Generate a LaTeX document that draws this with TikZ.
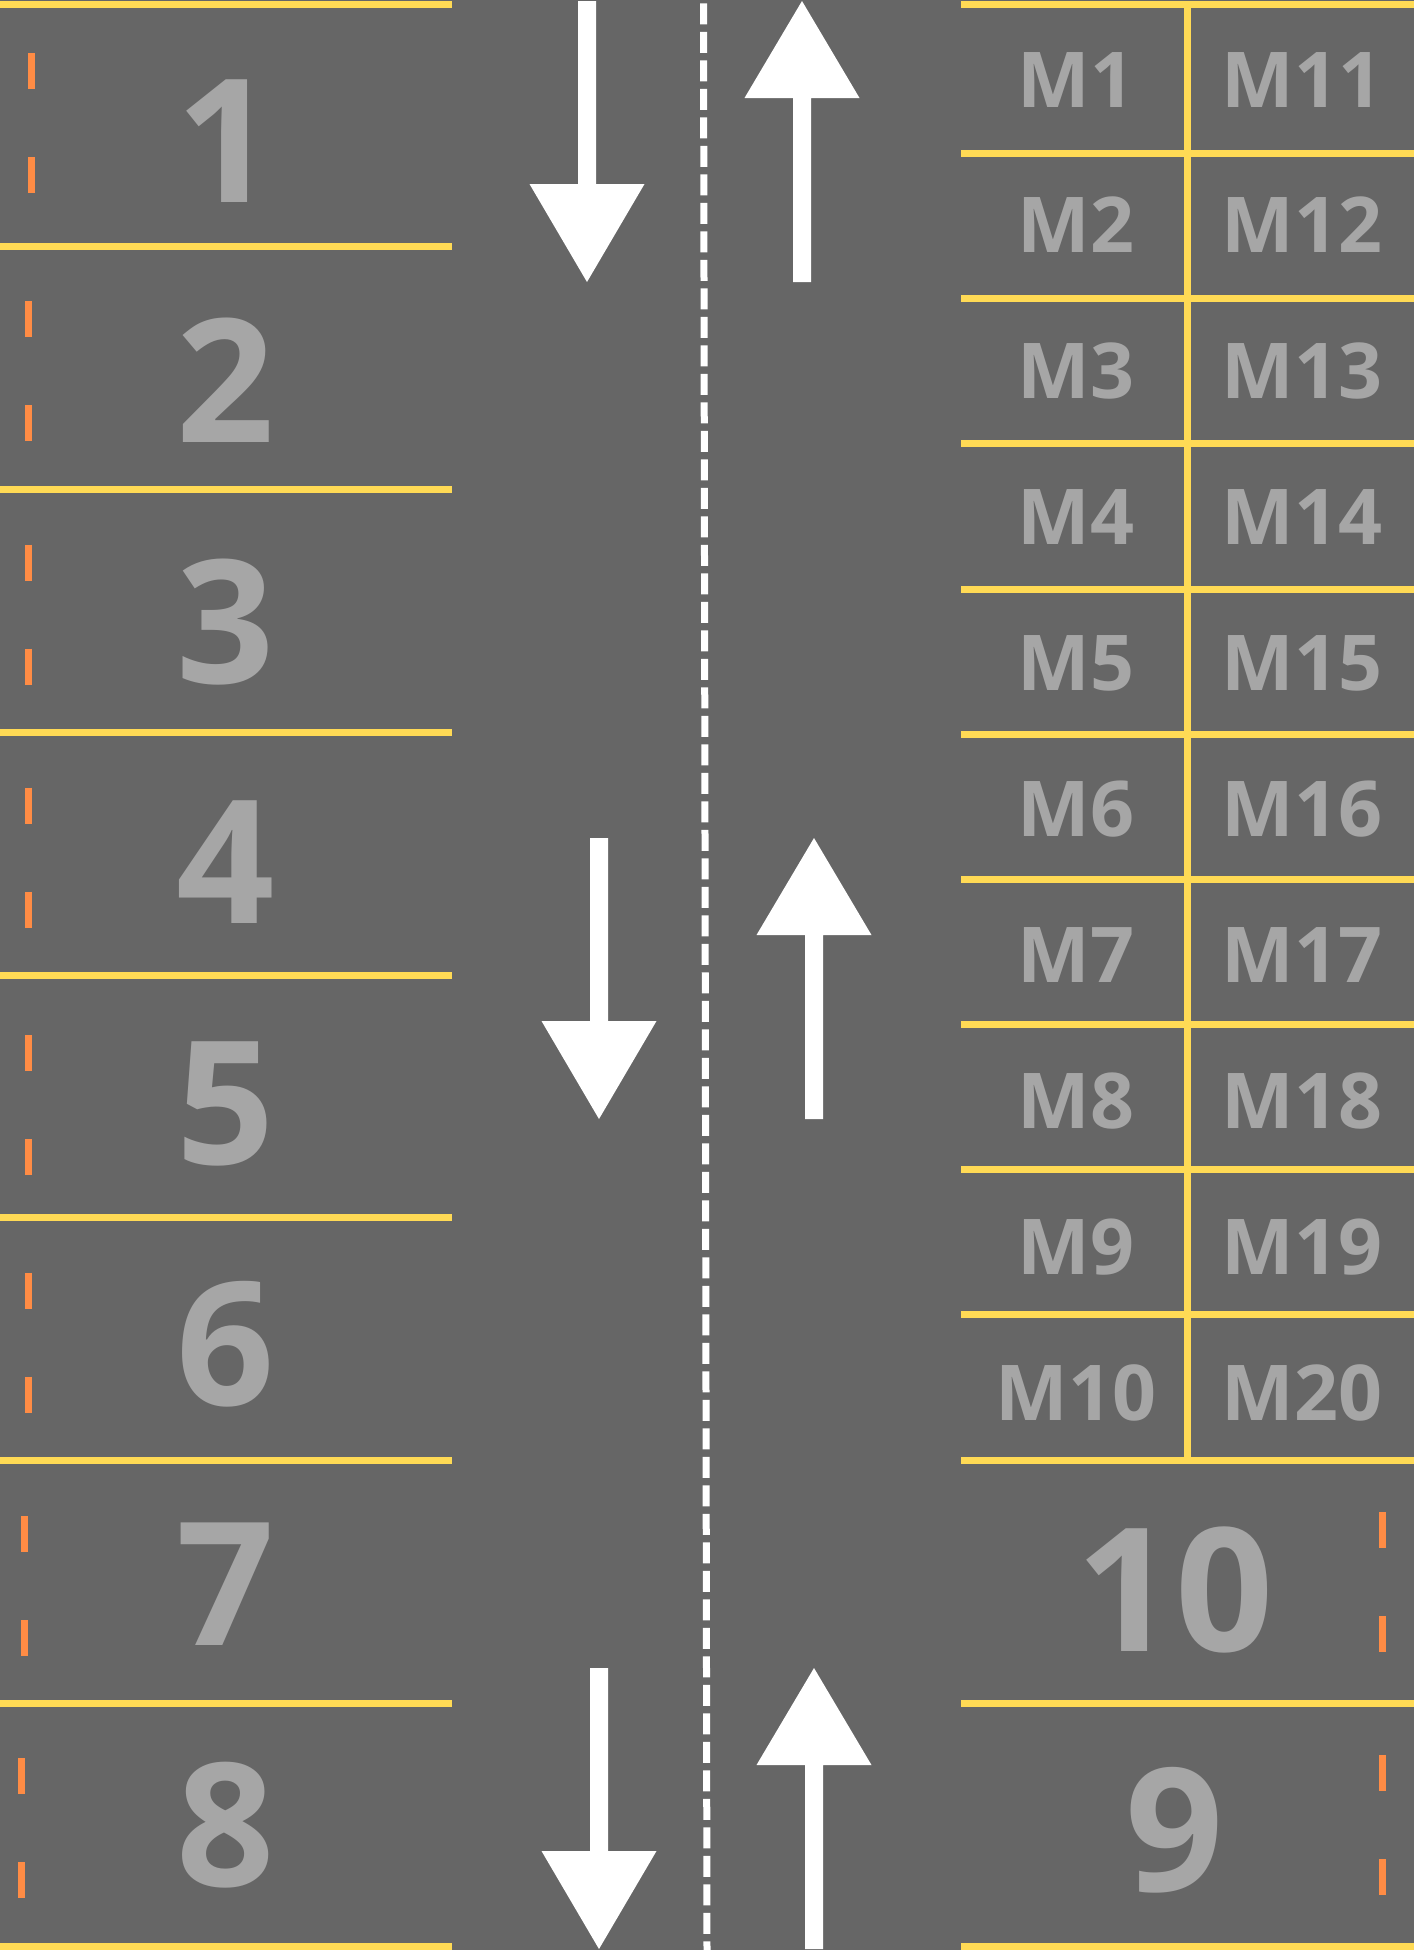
\documentclass[tikz,border=0pt]{standalone}
\usepackage{fontspec}
\setmainfont{Open Sans}
\usepackage{xcolor}
\usetikzlibrary{calc}

\definecolor{asphalt}{HTML}{666666}
\definecolor{bayyellow}{HTML}{FFDA55}
\definecolor{kerborange}{HTML}{FF8C45}
\definecolor{paint}{HTML}{A6A6A6}

\tikzset{
    bayline/.style={bayyellow, line width=3.5pt},
    kerbdash/.style={kerborange, line width=3.5pt},
    lanearrow/.style={fill=white},
    baynum/.style={paint, inner sep=0pt, anchor=base, font=\bfseries\fontsize{86}{86}\selectfont},
    bikenum/.style={paint, inner sep=0pt, anchor=base, font=\bfseries\fontsize{38.5}{38.5}\selectfont}
}

\begin{document}
\begin{tikzpicture}[x=0.5pt, y=-0.5pt]
    % road surface
    \fill[asphalt] (0,0) rectangle (1414,1950);
    \useasboundingbox (0,0) rectangle (1414,1950);

    % left bays 1 to 8
    \foreach \k in {0,...,8}
        \draw[bayline] (0,{4+242.75*\k}) -- (452,{4+242.75*\k});
    \foreach \n/\kx/\ky in {1/31.5/53, 2/28/301, 3/28/544.7, 4/28/787.6, 5/28/1035, 6/28/1272.5, 7/24.5/1516, 8/21/1758}
    {
        \draw[kerbdash] (\kx,\ky) -- (\kx,\ky+36);
        \draw[kerbdash] (\kx,\ky+104) -- (\kx,\ky+140);
        \node[baynum] (bay\n) at (226,{202+240.6*(\n-1)}) {\n};
    }

    % driving lanes
    \draw[white, line width=3.5pt, dash pattern=on 10.5pt off 3.75pt] (703.5,3.3) -- (707,1950);
    \foreach \ax/\ay in {587/1, 599/838, 599/1668}
        \fill[lanearrow] (\ax-9,\ay) -- (\ax+9,\ay) -- (\ax+9,\ay+183) -- (\ax+57.5,\ay+183)
            -- (\ax,\ay+281) -- (\ax-57.5,\ay+183) -- (\ax-9,\ay+183) -- cycle;
    \foreach \ax/\ay in {802/1, 814/838, 814/1668}
        \fill[lanearrow] (\ax,\ay) -- (\ax+57.5,\ay+97) -- (\ax+9,\ay+97) -- (\ax+9,\ay+281)
            -- (\ax-9,\ay+281) -- (\ax-9,\ay+97) -- (\ax-57.5,\ay+97) -- cycle;

    % motorbike grid M1 to M20
    \draw[bayline] (961,4) -- (1414,4);
    \foreach \k in {0,...,9}
        \draw[bayline] (961,{153.5+145.17*\k}) -- (1414,{153.5+145.17*\k});
    \draw[bayline] (1187.5,4) -- (1187.5,1460);
    \foreach \k in {1,...,10}
    {
        \pgfmathtruncatemacro\mr{\k+10}
        \node[bikenum] (m\k) at (1076,{107+145.9*(\k-1)}) {M\k};
        \node[bikenum] (m\mr) at (1302,{107+145.9*(\k-1)}) {M\mr};
    }

    % right bays 10 and 9
    \draw[bayline] (961,1703) -- (1414,1703);
    \draw[bayline] (961,1946) -- (1414,1946);
    \foreach \ky in {1512, 1755}
    {
        \draw[kerbdash] (1382,\ky) -- (1382,\ky+36);
        \draw[kerbdash] (1382,\ky+104) -- (1382,\ky+140);
    }
    \node[baynum] (bay10) at (1175,1651) {10};
    \node[baynum] (bay9) at (1175,1891) {9};
\end{tikzpicture}
\end{document}
